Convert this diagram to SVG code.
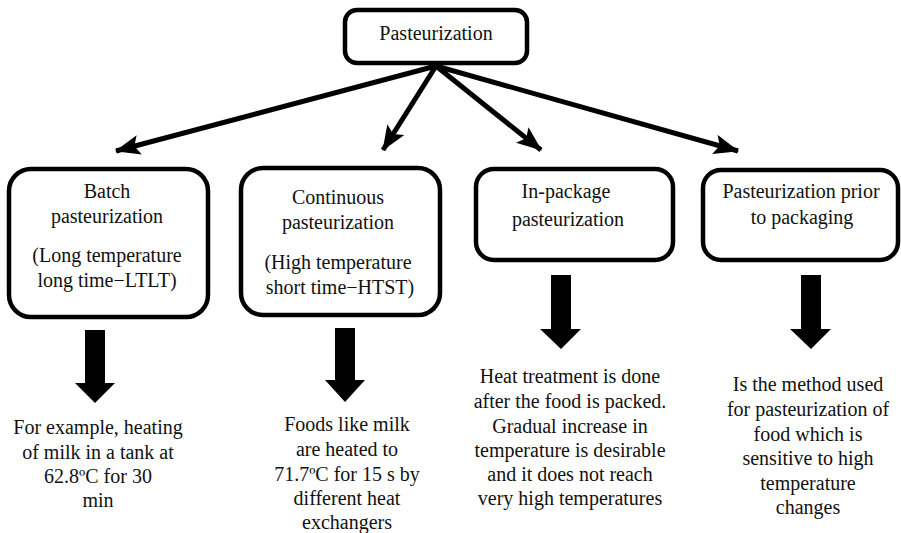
<svg xmlns="http://www.w3.org/2000/svg" width="901" height="533" viewBox="0 0 901 533">
<defs>
<style>
.box{fill:#fff;stroke:#000;stroke-width:4.5}
.t{font-family:"Liberation Serif","Times New Roman",serif;font-size:20px;fill:#111;text-anchor:middle}
.c{stroke:#000;stroke-width:5;fill:none;marker-end:url(#ah)}
.blk{fill:#000}
</style>
<marker id="ah" markerUnits="userSpaceOnUse" markerWidth="26" markerHeight="22" refX="24" refY="10" orient="auto">
<path d="M0,0 L25,10 L0,20 L5,10 z" fill="#000"/>
</marker>
</defs>
<rect width="901" height="533" fill="#fff"/>
<g id="connectors">
<line class="c" x1="436" y1="66" x2="116" y2="151"/>
<line class="c" x1="436" y1="66" x2="383" y2="150"/>
<line class="c" x1="436" y1="66" x2="541" y2="150"/>
<line class="c" x1="436" y1="66" x2="738" y2="151"/>
<path class="blk" d="M85,330 H105 V383 H115 L95,403 L75,383 H85 Z"/>
<path class="blk" d="M335,328 H355 V380 H365 L345,402 L325,380 H335 Z"/>
<path class="blk" d="M551,275 H571 V329 H581 L561,349 L540,329 H551 Z"/>
<path class="blk" d="M801,275 H821 V329 H831 L811,349 L790,329 H801 Z"/>
</g>
<g id="root">
<rect class="box" x="345" y="10" width="182" height="53" rx="12"/>
<text class="t" x="436" y="40">Pasteurization</text>
</g>
<g id="batch">
<rect class="box" x="9" y="169" width="199" height="148" rx="22"/>
<text class="t" x="107" y="198">Batch</text>
<text class="t" x="107" y="223">pasteurization</text>
<text class="t" x="107" y="262">(Long temperature</text>
<text class="t" x="107" y="287">long time−LTLT)</text>
</g>
<g id="continuous">
<rect class="box" x="241" y="168" width="199" height="147" rx="22"/>
<text class="t" x="338" y="204">Continuous</text>
<text class="t" x="338" y="229">pasteurization</text>
<text class="t" x="338" y="269">(High temperature</text>
<text class="t" x="340" y="294">short time−HTST)</text>
</g>
<g id="inpackage">
<rect class="box" x="476" y="169" width="197" height="91" rx="18"/>
<text class="t" x="566" y="198">In-package</text>
<text class="t" x="568" y="226">pasteurization</text>
</g>
<g id="prior">
<rect class="box" x="703" y="170" width="195" height="90" rx="18"/>
<text class="t" x="801" y="198">Pasteurization prior</text>
<text class="t" x="802" y="224">to packaging</text>
</g>
<g id="batch-desc">
<text class="t" x="98" y="434">For example, heating</text>
<text class="t" x="98" y="459">of milk in a tank at</text>
<text class="t" x="98" y="483">62.8ºC for 30</text>
<text class="t" x="98" y="507">min</text>
</g>
<g id="continuous-desc">
<text class="t" x="347" y="431">Foods like milk</text>
<text class="t" x="347" y="456">are heated to</text>
<text class="t" x="347" y="481">71.7ºC for 15 s by</text>
<text class="t" x="347" y="505">different heat</text>
<text class="t" x="347" y="529">exchangers</text>
</g>
<g id="inpackage-desc">
<text class="t" x="570" y="383">Heat treatment is done</text>
<text class="t" x="570" y="408">after the food is packed.</text>
<text class="t" x="570" y="433">Gradual increase in</text>
<text class="t" x="570" y="457">temperature is desirable</text>
<text class="t" x="570" y="481">and it does not reach</text>
<text class="t" x="570" y="505">very high temperatures</text>
</g>
<g id="prior-desc">
<text class="t" x="808" y="391">Is the method used</text>
<text class="t" x="808" y="416">for pasteurization of</text>
<text class="t" x="808" y="441">food which is</text>
<text class="t" x="808" y="465">sensitive to high</text>
<text class="t" x="808" y="490">temperature</text>
<text class="t" x="808" y="514">changes</text>
</g>
</svg>
